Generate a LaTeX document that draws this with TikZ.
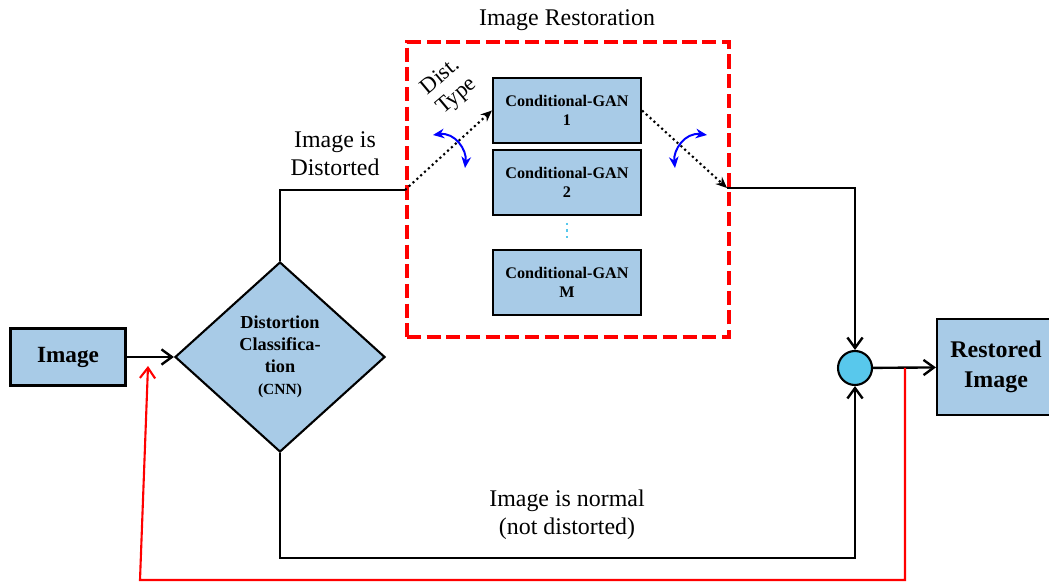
\documentclass[tikz,border=0pt]{standalone}
\usepackage{fontspec}
\setmainfont{Liberation Serif}
\usetikzlibrary{shapes.geometric,arrows.meta}

\definecolor{boxblue}{RGB}{168,203,231}
\definecolor{sumcyan}{RGB}{88,200,236}

\tikzset{
  block/.style={draw=black, line width=1.5pt, fill=boxblue, align=center, inner sep=2pt},
  gan/.style={block, minimum width=3.7cm, minimum height=1.62cm, font=\fontsize{11.5}{14}\selectfont\bfseries},
  plain/.style={line width=1.7pt},
  flow/.style={plain, -{Straight Barb[length=2.6mm,width=3.8mm,line width=1.7pt]}},
  dotflow/.style={line width=1.5pt, dash pattern=on 1.5pt off 2.2pt, -{Stealth[length=2.8mm,width=2.4mm]}},
  fback/.style={draw=red, line width=1.5pt, -{Straight Barb[length=2.6mm,width=3.8mm,line width=1.5pt]}},
  swing/.style={blue, line width=1.4pt, {Stealth[length=2.8mm,width=2.4mm]}-{Stealth[length=2.8mm,width=2.4mm]}},
  lbl/.style={align=center, font=\fontsize{17}{20}\selectfont}
}

\begin{document}
\begin{tikzpicture}[x=0.025cm, y=-0.025cm]
\useasboundingbox (0,0) rectangle (1049,582);

\node[block, minimum width=2.875cm, minimum height=1.425cm, font=\fontsize{16.5}{20}\selectfont\bfseries] (img) at (68,357) {Image};

\node[diamond, draw, line width=1.5pt, fill=boxblue, minimum width=5.25cm, minimum height=4.75cm, inner sep=0pt, align=center, font=\fontsize{13}{15.6}\selectfont\bfseries] (cls) at (280,357) {Distortion\\Classifica-\\tion\\{\fontsize{11}{15.6}\selectfont(CNN)}};

\node[draw=red, line width=2.8pt, dash pattern=on 10pt off 4pt, minimum width=8.05cm, minimum height=7.375cm] (restore) at (568,189.5) {};
\node[lbl] (title) at (567,20) {Image Restoration};

\node[gan] (gan1) at (567,110.5) {Conditional-GAN\\1};
\node[gan] (gan2) at (567,182.5) {Conditional-GAN\\2};
\node[gan] (ganm) at (567,282.5) {Conditional-GAN\\M};
\draw[sumcyan, line width=1.6pt, dash pattern=on 1.6pt off 3pt] (gan2.south) ++(0,7) coordinate (vdots) -- ([yshift=0.17cm]ganm.north);

\node[circle, draw, line width=1.5pt, fill=sumcyan, minimum size=0.85cm, inner sep=0pt] (sum) at (855,368) {};
\node[block, minimum width=2.95cm, minimum height=2.42cm, font=\fontsize{17}{21}\selectfont\bfseries] (out) at (996,367) {Restored\\Image};

\coordinate (split) at (405,190);
\coordinate (merge) at (727,188);
\coordinate (skip) at (567,558);
\coordinate (tap) at (905,368);
\coordinate (fbr) at (905,580);
\coordinate (fbl) at (140,580);
\coordinate (fbin) at (148,366);

\draw[flow] (img) -- (cls);
\draw[plain] (cls.north) |- (split);
\draw[dotflow] (split) -- (gan1.west);
\draw[dotflow] (gan1.east) -- (merge);
\draw[flow] (merge) -| (sum.north);
\draw[flow] (cls.south) |- (skip) -| (sum.south);
\draw[flow] (sum) -- (out);
\draw[fback] (tap) -- (fbr) -- (fbl) -- (fbin);

\node[lbl] (distorted) at (335,154) {Image is\\Distorted};
\node[lbl] (normal) at (567,515) {Image is normal\\(not distorted)};
\node[lbl, rotate=40, font=\fontsize{16}{18}\selectfont] (dtype) at (449,87) {Dist.\\Type};

\draw[swing] (433,135) .. controls (455,132) and (467,150) .. (465,168);
\draw[swing] (707,135) .. controls (685,132) and (673,150) .. (675,168);
\end{tikzpicture}
\end{document}
